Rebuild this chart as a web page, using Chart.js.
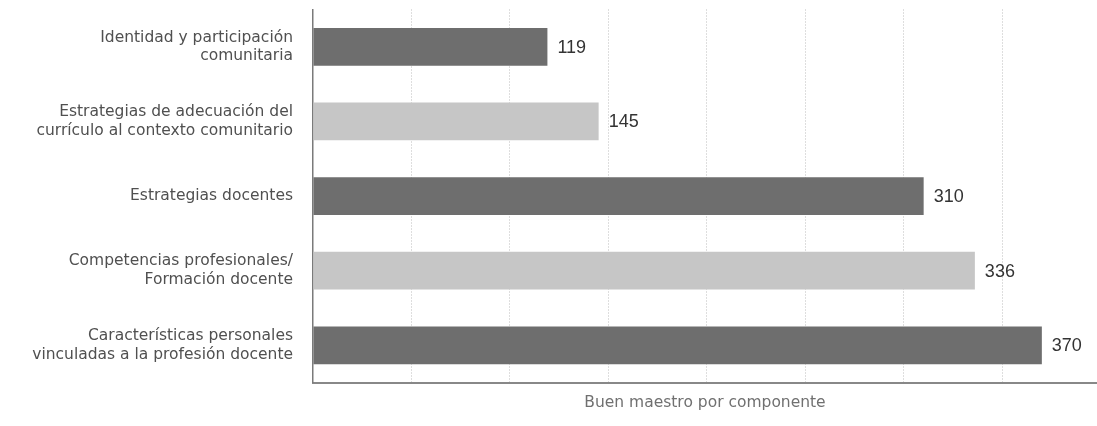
<!DOCTYPE html>
<html>
<head>
<meta charset="utf-8">
<script src="https://cdn.jsdelivr.net/npm/chart.js@4.4.1/dist/chart.umd.min.js"></script>
<style>
  html, body { margin: 0; padding: 0; background: #fff; overflow: hidden; }
  #wrap { width: 1097px; height: 426px; position: relative; }
</style>
</head>
<body>
<div id="wrap"><canvas id="myChart"></canvas></div>
<script>
// Componentes del buen maestro
var categorias = [
  ["Identidad y participación", "comunitaria"],
  ["Estrategias de adecuación del", "currículo al contexto comunitario"],
  ["Estrategias docentes"],
  ["Competencias profesionales/", "Formación docente"],
  ["Características personales", "vinculadas a la profesión docente"]
];
var valores = [119, 145, 310, 336, 370];
var colores = ["#6e6e6e", "#c6c6c6", "#6e6e6e", "#c6c6c6", "#6e6e6e"];
// vertical dotted lines (no labels shown)
var marcasEje = [0, 50, 100, 150, 200, 250, 300, 350];

// numbers at the end of each bar
var etiquetasValor = {
  id: 'etiquetasValor',
  afterDatasetsDraw: function (chart) {
    var ctx = chart.ctx;
    var meta = chart.getDatasetMeta(0);
    ctx.save();
    ctx.font = '18px "Liberation Sans", Arial, sans-serif';
    ctx.fillStyle = '#333333';
    ctx.textAlign = 'left';
    ctx.textBaseline = 'middle';
    meta.data.forEach(function (bar, i) {
      ctx.fillText(chart.data.datasets[0].data[i], bar.x + 10, bar.y + 1);
    });
    ctx.restore();
  }
};

var ctx = document.getElementById("myChart").getContext('2d');

var myBarChart = new Chart(ctx, {
  type: 'bar',
  data: {
    labels: categorias,
    datasets: [{
      data: valores,
      backgroundColor: colores,
      categoryPercentage: 1,
      barPercentage: 0.505
    }]
  },
  options: {
    indexAxis: 'y',
    responsive: true,
    maintainAspectRatio: false,
    animation: false,
    layout: { padding: { top: 9.5, bottom: 13.4, left: 0, right: 0 } },
    plugins: {
      legend: { display: false },
      tooltip: { enabled: false }
    },
    scales: {
      x: {
        min: 0,
        max: 398,
        afterBuildTicks: function (scale) {
          scale.ticks = marcasEje.map(function (v) { return { value: v }; });
        },
        ticks: { display: false },
        grid: {
          drawTicks: false,
          color: function (c) { return c.tick && c.tick.value === 0 ? 'rgba(0,0,0,0)' : '#bdbdbd'; },
          lineWidth: 1
        },
        // in v4 the dash here is used for the grid lines
        border: { display: true, color: '#888888', width: 2, dash: [1, 2] },
        title: {
          display: true,
          text: 'Buen maestro por componente',
          color: '#707070',
          font: { family: '"DejaVu Sans", sans-serif', size: 15.5, lineHeight: 1.2 },
          padding: { top: 11.4, bottom: 0 }
        }
      },
      y: {
        afterFit: function (scale) {
          scale.width = 313;
          scale.paddingTop = 0;
          scale.paddingBottom = 0;
        },
        ticks: {
          color: '#505050',
          padding: 20,
          font: { family: '"DejaVu Sans", sans-serif', size: 15.5, lineHeight: 1.2 }
        },
        grid: { display: false, drawTicks: false },
        border: { display: true, color: '#7a7a7a', width: 1.5 }
      }
    }
  },
  plugins: [etiquetasValor]
});
</script>
</body>
</html>
